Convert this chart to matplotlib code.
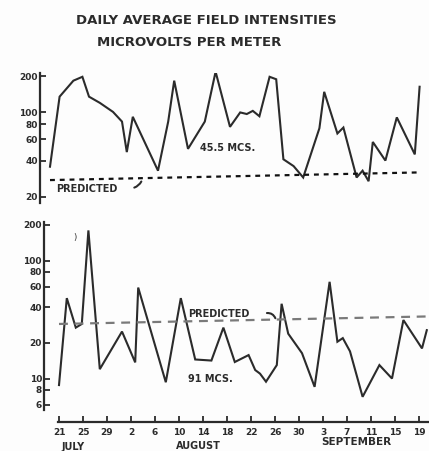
import numpy as np
import matplotlib
matplotlib.use("Agg")
import matplotlib.pyplot as plt
from matplotlib.ticker import FixedLocator, NullLocator

# day 0 = July 21
top_days = [0.0, 1.6, 3.9, 5.4, 6.5, 8.3, 10.5, 12.0, 12.8, 13.8, 18.0, 19.7, 20.7,
            23.0, 25.8, 27.6, 30.0, 31.7, 32.8, 33.8, 34.9, 36.6, 37.7, 38.9, 40.6,
            42.2, 44.9, 45.7, 47.9, 48.9, 51.1, 52.1, 53.1, 53.8, 55.9, 57.8, 60.8, 61.6]
top_vals = [35.6, 135, 183, 197, 135, 120, 101, 84, 47, 92, 33, 84, 183,
            50, 84, 217, 76, 100, 97, 103, 93, 197, 188, 41, 36,
            29, 74, 148, 67, 75, 29, 33, 27, 57, 40, 91, 45, 163]

bot_days = [0.0, 1.3, 2.8, 3.8, 4.9, 6.8, 10.5, 12.7, 13.2, 17.8, 20.3, 22.7, 25.4,
            27.4, 29.3, 31.6, 32.7, 33.5, 34.5, 36.3, 37.1, 38.2, 40.5, 42.6, 45.1,
            46.4, 47.3, 48.5, 50.6, 53.4, 55.5, 57.4, 60.5, 61.3]
bot_vals = [8.8, 48, 27, 29, 180, 12, 25, 13.7, 59, 9.3, 48, 14.5, 14.2,
            27, 13.8, 15.8, 11.8, 11.0, 9.4, 13, 43, 24, 16.4, 8.5, 66,
            20.5, 22, 17, 7.0, 13, 10, 31.3, 18, 25.7]

top_pred_days = [0.0, 61.2]
top_pred_vals = [27.6, 31.9]
bot_pred_days = [0.0, 61.7]
bot_pred_vals = [29.0, 33.6]

top_yticks = [20, 40, 60, 80, 100, 200]
bot_yticks = [6, 8, 10, 20, 40, 60, 80, 100, 200]
x_ticks = list(range(0, 61, 4))
x_labels = ['21', '25', '29', '2', '6', '10', '14', '18', '22', '26', '30',
            '3', '7', '11', '15', '19']

W, H = 429, 451
ink = '#2b2b2b'
fig = plt.figure(figsize=(W / 100, H / 100), dpi=100)
fig.patch.set_facecolor('#fdfdfd')


def px_axes(left, top, right, bottom):
    return fig.add_axes([left / W, (H - bottom) / H, (right - left) / W, (bottom - top) / H])


def style_y(ax, ticks):
    ax.set_yscale('log')
    ax.yaxis.set_major_locator(FixedLocator(ticks))
    ax.yaxis.set_minor_locator(NullLocator())
    ax.set_yticklabels([str(t) for t in ticks])
    ax.tick_params(axis='y', direction='in', length=4, width=1.3, pad=1.5,
                   labelsize=6.5, colors=ink)
    for lab in ax.get_yticklabels():
        lab.set_fontweight('bold')
    ax.spines['left'].set_linewidth(1.6)
    ax.spines['left'].set_color(ink)
    for s in ('top', 'right'):
        ax.spines[s].set_visible(False)
    ax.patch.set_alpha(0)


# top panel: 45.5 mcs
ax1 = px_axes(40, 73, 429, 203)
ax1.set_xlim((40 - 50) / 6, (429 - 50) / 6)
ax1.set_ylim(200 * 10 ** (-127 / 121), 200 * 10 ** (3 / 121))
style_y(ax1, top_yticks)
ax1.spines['bottom'].set_visible(False)
ax1.set_xticks([])
ax1.plot(top_days, top_vals, color=ink, lw=1.5, solid_joinstyle='miter')
ax1.plot(top_pred_days, top_pred_vals, color='#111111', lw=1.6, ls=(0, (2.2, 2.2)))
ax1.text(25, 51, '45.5 MCS.', fontsize=7, fontweight='bold', color=ink,
         va='center', ha='left')
ax1.text(1.1, 23.3, 'PREDICTED', fontsize=7, fontweight='bold', color=ink,
         va='center', ha='left')
ax1.annotate('', xy=(15.4, 28.2), xytext=(13.6, 23.6),
             arrowprops=dict(arrowstyle='-', color=ink, lw=1.5,
                             connectionstyle='arc3,rad=0.3'))

# bottom panel: 91 mcs
ax2 = px_axes(44, 222, 429, 422)
ax2.set_xlim((44 - 59) / 6, (429 - 59) / 6)
ax2.set_ylim(200 * 10 ** (-197 / 118), 200 * 10 ** (3 / 118))
style_y(ax2, bot_yticks)
ax2.spines['left'].set_bounds(200 * 10 ** (-185 / 118), 200 * 10 ** (3 / 118))
ax2.spines['bottom'].set_bounds(-0.2, (429 - 59) / 6)
ax2.spines['bottom'].set_linewidth(1.6)
ax2.spines['bottom'].set_color(ink)
ax2.set_xticks(x_ticks)
ax2.set_xticklabels(x_labels)
ax2.tick_params(axis='x', direction='in', length=4, width=1.3, pad=4,
                labelsize=6.5, colors=ink)
for lab in ax2.get_xticklabels():
    lab.set_fontweight('bold')
ax2.plot(bot_days, bot_vals, color=ink, lw=1.5, solid_joinstyle='miter')
ax2.plot(bot_pred_days, bot_pred_vals, color='#7a7a7a', lw=1.6, ls=(0, (4, 3)))
ax2.text(21.5, 35.4, 'PREDICTED', fontsize=7, fontweight='bold', color=ink,
         va='center', ha='left')
ax2.annotate('', xy=(36.2, 30.8), xytext=(34.2, 35.6),
             arrowprops=dict(arrowstyle='-', color=ink, lw=1.5,
                             connectionstyle='arc3,rad=-0.5'))
ax2.text(21.5, 9.9, '91 MCS.', fontsize=7, fontweight='bold', color=ink,
         va='center', ha='left')
ax2.text(2.7, 158, ')', fontsize=6, color=ink, va='center', ha='center')

# titles and month names
fig.text(206 / W, 1 - 20 / H, 'DAILY AVERAGE FIELD INTENSITIES', fontsize=9.5,
         fontweight='bold', color=ink, ha='center', va='center')
fig.text(189 / W, 1 - 43 / H, 'MICROVOLTS PER METER', fontsize=9.5,
         fontweight='bold', color=ink, ha='center', va='center')
fig.text(73 / W, 1 - 447 / H, 'JULY', fontsize=7, fontweight='bold', color=ink,
         ha='center', va='center')
fig.text(198 / W, 1 - 446 / H, 'AUGUST', fontsize=7, fontweight='bold', color=ink,
         ha='center', va='center')
fig.text(356 / W, 1 - 442 / H, 'SEPTEMBER', fontsize=7.5, fontweight='bold', color=ink,
         ha='center', va='center')

fig.savefig('out.png', dpi=100, facecolor=fig.get_facecolor())
